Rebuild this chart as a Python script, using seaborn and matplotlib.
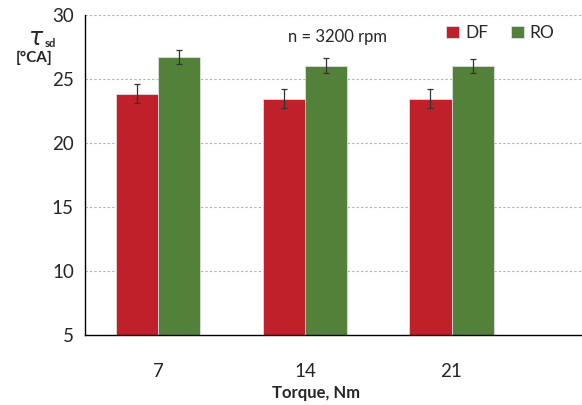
import matplotlib
matplotlib.use("Agg")
import matplotlib.pyplot as plt
import seaborn as sns
import pandas as pd

torque = ["7", "14", "21"]
df_vals = [23.85, 23.47, 23.47]
ro_vals = [26.75, 26.05, 26.02]
df_err = [0.72, 0.72, 0.72]
ro_err = [0.55, 0.55, 0.55]
series = ["DF", "RO"]
colors = ["#C0202A", "#538139"]

data = pd.DataFrame({
    "Torque": torque * 2,
    "value": df_vals + ro_vals,
    "err": df_err + ro_err,
    "series": ["DF"] * 3 + ["RO"] * 3,
})

sns.set_style("white")
plt.rcParams["font.family"] = ["Lato", "DejaVu Sans"]

fig = plt.figure(figsize=(5.82, 4.05), dpi=100)
ax = fig.add_axes([0.146, 0.173, 0.854, 0.79])

sns.barplot(data=data, x="Torque", y="value", hue="series", order=torque,
            hue_order=series, palette=colors, width=0.575, errorbar=None,
            saturation=1, edgecolor="#e8e8e8", linewidth=0.5, ax=ax, legend=False)

# error bars at bar centers
for i, s in enumerate(series):
    sub = data[data.series == s]
    container = ax.containers[i]
    xs = [p.get_x() + p.get_width() / 2 for p in container.patches]
    ax.errorbar(xs, sub["value"].values, yerr=sub["err"].values, fmt="none",
                ecolor="#333333", elinewidth=0.9, capsize=2.5, capthick=0.9, zorder=5)

ax.set_ylim(5, 30)
ax.set_xlim(-0.5, 2.89)
ax.set_yticks([5, 10, 15, 20, 25, 30])
ax.yaxis.grid(True, linestyle=(0, (2, 2)), color="#b0b0b0", linewidth=0.8)
ax.set_axisbelow(True)
for sp in ["top", "right"]:
    ax.spines[sp].set_visible(False)
for sp in ["left", "bottom"]:
    ax.spines[sp].set_color("black")
    ax.spines[sp].set_linewidth(1.0)

ax.set_xticks([0, 1, 2])
ax.set_xticklabels(torque)
ax.tick_params(axis="x", length=0, pad=20, labelsize=13.5)
ax.set_xticks([-0.5, 0.5, 1.5, 2.5], minor=True)
ax.tick_params(axis="x", which="minor", length=5, width=1, color="black", direction="out")
ax.tick_params(axis="y", length=5, width=1, color="black", direction="out", labelsize=13.5, pad=3)

ax.set_xlabel("")
ax.set_ylabel("")
fig.text(316 / 582, 1 - 393 / 405, "Torque, Nm", fontsize=12, fontweight="bold",
         ha="center", va="center")

fig.text(0.062, 0.905, r"$\tau$", fontsize=17, ha="center", va="center",
         family="DejaVu Serif")
fig.text(0.077, 0.893, "sd", fontsize=8, fontweight="bold", ha="left", va="center")
fig.text(0.058, 0.857, "[°CA]", fontsize=11, fontweight="bold", ha="center", va="center")

fig.text(337 / 582, 1 - 37 / 405, "n = 3200 rpm", fontsize=12, ha="center", va="center")

# legend
from matplotlib.patches import Patch
handles = [Patch(facecolor=c, edgecolor="#e8e8e8", linewidth=0.5) for c in colors]
fig.legend(handles, series, loc="center left", bbox_to_anchor=(446 / 582, 1 - 33 / 405),
           ncol=2, frameon=False, fontsize=12.5, handlelength=0.75, handleheight=0.75,
           handletextpad=0.35, columnspacing=1.3, borderpad=0, borderaxespad=0)

fig.savefig("out.png", dpi=100)
